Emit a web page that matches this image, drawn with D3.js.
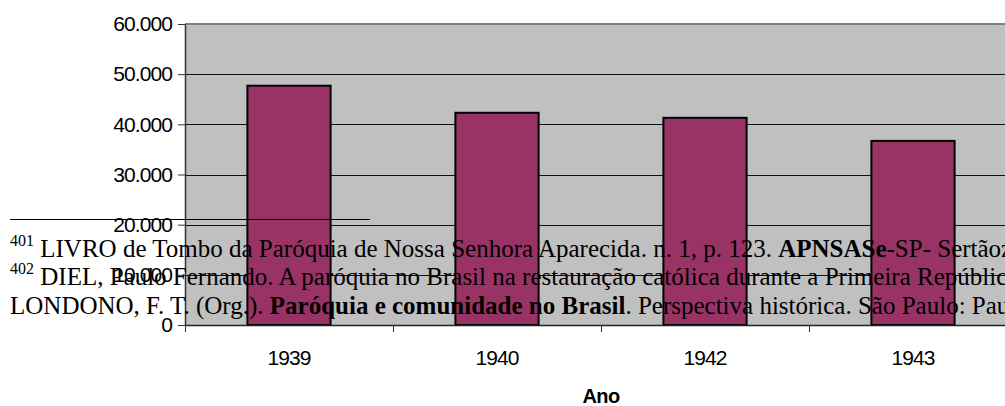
<!DOCTYPE html>
<html>
<head>
<meta charset="utf-8">
<script src="https://cdn.jsdelivr.net/npm/d3@7"></script>
<style>
  body { margin: 0; background: #fff; }
  svg { display: block; }
</style>
</head>
<body>
<div id="container"></div>
<script>
/* DATA */
const years = ["1939", "1940", "1942", "1943"];
const values = [47700, 42300, 41300, 36700];
const yTicks = [0, 10000, 20000, 30000, 40000, 50000, 60000];
const axisTitle = "Ano";

/* CONSTANTS */
const width = 1005;
const height = 406;
const plot = { left: 185, right: 1017, top: 24, bottom: 325 };
const sans = "'Liberation Sans', Arial, Helvetica, sans-serif";
const serif = "'Liberation Serif', 'Times New Roman', serif";

const svg = d3.select("#container")
  .append("svg")
  .attr("width", width)
  .attr("height", height);

/* SCALES */
const xScale = d3.scaleBand()
  .domain(years)
  .range([plot.left, plot.right])
  .paddingInner(0.6)
  .paddingOuter(0.3);

// index scale for the ticks between categories
const xEdge = d3.scaleLinear()
  .domain([0, years.length])
  .range([plot.left, plot.right]);

const yScale = d3.scaleLinear()
  .domain([0, 60000])
  .range([plot.bottom, plot.top]);

/* PLOT AREA */
svg.append("rect")
  .attr("x", plot.left)
  .attr("y", plot.top)
  .attr("width", plot.right - plot.left)
  .attr("height", plot.bottom - plot.top)
  .attr("fill", "#c0c0c0");

// gridlines
svg.selectAll(".grid")
  .data(yTicks.filter(d => d > 0 && d < 60000))
  .join("line")
  .attr("class", "grid")
  .attr("x1", plot.left)
  .attr("x2", plot.right)
  .attr("y1", d => Math.round(yScale(d)) + 0.5)
  .attr("y2", d => Math.round(yScale(d)) + 0.5)
  .attr("stroke", "#111")
  .attr("stroke-width", 1);

// top border
svg.append("line")
  .attr("x1", plot.left)
  .attr("x2", plot.right)
  .attr("y1", yScale(60000))
  .attr("y2", yScale(60000))
  .attr("stroke", "#808080")
  .attr("stroke-width", 2);

/* BARS */
svg.selectAll(".bar")
  .data(years)
  .join("rect")
  .attr("class", "bar")
  .attr("x", d => xScale(d))
  .attr("y", (d, i) => yScale(values[i]))
  .attr("width", xScale.bandwidth())
  .attr("height", (d, i) => yScale(0) - yScale(values[i]))
  .attr("fill", "#993366")
  .attr("stroke", "#000")
  .attr("stroke-width", 2);

/* AXES */
const yAxis = d3.axisLeft(yScale)
  .tickValues(yTicks)
  .tickSize(7)
  .tickSizeOuter(0)
  .tickPadding(6)
  .tickFormat(d => d3.format(",")(d).replace(/,/g, "."));

svg.append("g")
  .attr("transform", `translate(${plot.left}, 0)`)
  .call(yAxis)
  .call(g => g.select(".domain").attr("stroke", "#333").attr("stroke-width", 1.5))
  .call(g => g.selectAll(".tick line").attr("stroke", "#333"))
  .call(g => g.selectAll("text")
    .style("font-family", sans)
    .style("font-size", "21px")
    .style("letter-spacing", "-0.9px")
    .attr("fill", "#000"));

const xTickAxis = d3.axisBottom(xEdge)
  .tickValues(d3.range(years.length + 1))
  .tickSize(7)
  .tickSizeOuter(0)
  .tickFormat("");

svg.append("g")
  .attr("transform", `translate(0, ${plot.bottom})`)
  .call(xTickAxis)
  .call(g => g.select(".domain").attr("stroke", "#222").attr("stroke-width", 1.5))
  .call(g => g.selectAll(".tick line").attr("stroke", "#333"));

svg.selectAll(".xlabel")
  .data(years)
  .join("text")
  .attr("class", "xlabel")
  .attr("x", d => xScale(d) + xScale.bandwidth() / 2)
  .attr("y", 364.5)
  .attr("text-anchor", "middle")
  .style("font-family", sans)
  .style("font-size", "21px")
  .style("letter-spacing", "-0.9px")
  .text(d => d);

svg.append("text")
  .attr("x", (plot.left + plot.right) / 2)
  .attr("y", 403)
  .attr("text-anchor", "middle")
  .style("font-family", sans)
  .style("font-size", "20px")
  .style("font-weight", "bold")
  .style("letter-spacing", "-0.6px")
  .text(axisTitle);

/* FOOTNOTES drawn over the chart */
svg.append("line")
  .attr("x1", 10)
  .attr("x2", 370)
  .attr("y1", 219.5)
  .attr("y2", 219.5)
  .attr("stroke", "#000")
  .attr("stroke-width", 1);

const notes = [
  { y: 257, parts: [["401", "sup"], [" LIVRO de Tombo da Paróquia de Nossa Senhora Aparecida. n. 1, p. 123. ", "n"], ["APNSASe", "b"], ["-SP- Sertãozinho.", "n"]] },
  { y: 285, parts: [["402", "sup"], [" DIEL, Paulo Fernando. A paróquia no Brasil na restauração católica durante a Primeira República. In:", "n"]] },
  { y: 314, parts: [["LONDONO, F. T. (Org.). ", "n"], ["Paróquia e comunidade no Brasil", "b"], [". Perspectiva histórica. São Paulo: Paulus, 1997.", "n"]] }
];

notes.forEach(note => {
  const t = svg.append("text")
    .attr("x", 10)
    .attr("y", note.y)
    .style("font-family", serif)
    .style("font-size", "25px")
    .attr("fill", "#000");
  note.parts.forEach((p, i) => {
    const ts = t.append("tspan").text(p[0]);
    if (p[1] === "b") ts.style("font-weight", "bold");
    if (p[1] === "sup") {
      ts.style("font-size", "16px").attr("dy", -11);
    }
    if (i === 1 && note.parts[0][1] === "sup") {
      ts.attr("dy", 11);
    }
  });
});
</script>
</body>
</html>
